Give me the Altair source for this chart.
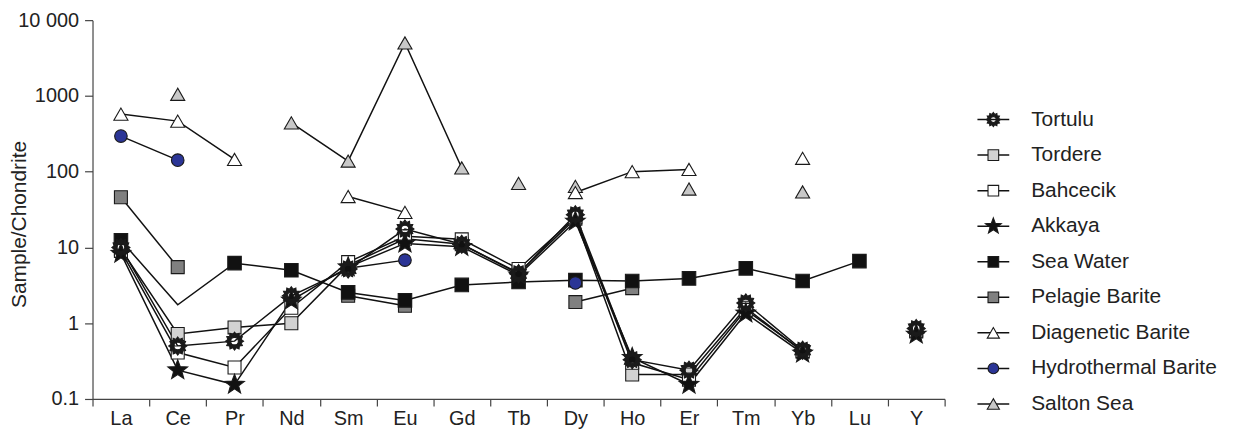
import math
import altair as alt
import pandas as pd

# ---------------- data ----------------
elements = ["La", "Ce", "Pr", "Nd", "Sm", "Eu", "Gd", "Tb", "Dy", "Ho", "Er", "Tm", "Yb", "Lu", "Y"]

names = ["Tortulu", "Tordere", "Bahcecik", "Akkaya", "Sea Water", "Pelagie Barite",
         "Diagenetic Barite", "Hydrothermal Barite", "Salton Sea"]

tortulu = [10.0, 0.50, 0.58, 2.3, 5.2, 17.5, 11.0, 4.5, 27.0, 0.33, 0.24, 1.85, 0.44, None, 0.85]
tordere = [9.5, 0.72, 0.88, 1.0, 5.8, 13.0, 11.0, 4.6, 24.0, 0.21, 0.21, 1.60, 0.42, None, 0.78]
bahcecik = [9.0, 0.41, 0.26, 1.6, 6.4, 14.0, 12.8, 5.2, 25.0, 0.30, 0.18, 1.50, 0.43, None, 0.80]
akkaya = [8.3, 0.24, 0.155, 2.0, 5.5, 11.3, 10.2, 4.3, 22.0, 0.35, 0.155, 1.35, 0.40, None, 0.71]
sea_water = [12.4, 1.75, 6.2, 5.0, 2.55, 2.0, 3.2, 3.5, 3.7, 3.6, 3.9, 5.3, 3.6, 6.6, None]
pelagie = [46.0, 5.5, None, None, 2.3, 1.7, None, None, 1.9, 2.9, None, None, None, None, None]
diagenetic = [575, 465, 145, None, 47, 29, None, None, 53, 100, 107, None, 150, None, None]
hydrothermal = [295, 142, None, None, 5.3, 6.8, None, None, 3.4, None, None, None, None, None, None]
salton = [None, 1050, None, 440, 138, 5000, 112, 70, 64, None, 59, None, 54, None, None]

series = {
    "Tortulu": tortulu, "Tordere": tordere, "Bahcecik": bahcecik, "Akkaya": akkaya,
    "Sea Water": sea_water, "Pelagie Barite": pelagie, "Diagenetic Barite": diagenetic,
    "Hydrothermal Barite": hydrothermal, "Salton Sea": salton,
}

# points that are not joined to the previous point of their series
break_before = {("Salton Sea", "Tb"), ("Salton Sea", "Dy")}
# vertices drawn without a marker
hidden_marker = {("Sea Water", "Ce"), ("Hydrothermal Barite", "Sm")}

y_ticks = [0.1, 1, 10, 100, 1000, 10000]
y_tick_labels = ["0.1", "1", "10", "100", "1000", "10 000"]

# ---------------- styles ----------------
def star_path(n, r_out, r_in):
    pts = []
    for i in range(2 * n):
        r = r_out if i % 2 == 0 else r_in
        a = -math.pi / 2 + i * math.pi / n
        pts.append(f"{r * math.cos(a):.3f},{r * math.sin(a):.3f}")
    return "M" + "L".join(pts) + "Z"

# black toothed ring with a white hole in the middle (opposite winding)
sun = star_path(12, 1.0, 0.76) + " M0.42,0 A0.42,0.42 0 1,0 -0.42,0 A0.42,0.42 0 1,0 0.42,0Z"
star5 = star_path(5, 1.0, 0.42)

shape_of = {"Tortulu": sun, "Tordere": "square", "Bahcecik": "square", "Akkaya": star5,
            "Sea Water": "square", "Pelagie Barite": "square", "Diagenetic Barite": "triangle-up",
            "Hydrothermal Barite": "circle", "Salton Sea": "triangle-up"}
fill_of = {"Tortulu": "#1a1a1a", "Tordere": "#d2d2d2", "Bahcecik": "#ffffff", "Akkaya": "#111111",
           "Sea Water": "#111111", "Pelagie Barite": "#808080", "Diagenetic Barite": "#ffffff",
           "Hydrothermal Barite": "#2b3596", "Salton Sea": "#c8c8c8"}
size_of = {"Tortulu": 330, "Tordere": 170, "Bahcecik": 170, "Akkaya": 430, "Sea Water": 185,
           "Pelagie Barite": 170, "Diagenetic Barite": 200, "Hydrothermal Barite": 160, "Salton Sea": 200}
legend_size_of = {"Tortulu": 200, "Tordere": 115, "Bahcecik": 115, "Akkaya": 280, "Sea Water": 115,
                  "Pelagie Barite": 115, "Diagenetic Barite": 150, "Hydrothermal Barite": 115, "Salton Sea": 150}

draw_order = ["Salton Sea", "Diagenetic Barite", "Pelagie Barite", "Sea Water", "Hydrothermal Barite",
              "Tordere", "Bahcecik", "Akkaya", "Tortulu"]

line_rows, pt_rows = [], []
for name in draw_order:
    vals = series[name]
    seg = 0
    for el, v in zip(elements, vals):
        if v is None:
            seg += 1
            continue
        if (name, el) in break_before:
            seg += 1
        line_rows.append({"series": name, "el": el, "v": v, "seg": f"{name}-{seg}"})
        if (name, el) not in hidden_marker:
            pt_rows.append({"series": name, "el": el, "v": v, "sz": size_of[name]})

lines_df = pd.DataFrame(line_rows)
pts_df = pd.DataFrame(pt_rows)
legend_df = pd.DataFrame({"series": names, "sz": [legend_size_of[n] for n in names]})

FONT = "Liberation Sans"

x_enc = alt.X("el:N", scale=alt.Scale(type="band", domain=elements, paddingInner=0, paddingOuter=0),
              axis=alt.Axis(title=None, tickBand="extent", labelAngle=0, grid=False))
label_expr = " : ".join(f"datum.value == {v} ? '{l}'" for v, l in zip(y_ticks, y_tick_labels)) + " : ''"
y_enc = alt.Y("v:Q", scale=alt.Scale(type="log", domain=[0.1, 10000]),
              axis=alt.Axis(values=y_ticks, labelExpr=label_expr, title="Sample/Chondrite", grid=False,
                            tickSize=8, labelPadding=6, titleX=-63, titleY=205, titleFontSize=21,
                            titleFontWeight="normal", titleFont=FONT, titleColor="#222222"))

shape_scale = alt.Scale(domain=names, range=[shape_of[n] for n in names])
fill_scale = alt.Scale(domain=names, range=[fill_of[n] for n in names])

lines = alt.Chart(lines_df).mark_line(color="#111111", strokeWidth=1.5).encode(
    x=x_enc, y=y_enc, detail="seg:N")

points = alt.Chart(pts_df).mark_point(filled=False, stroke="#1a1a1a", strokeWidth=1.1, opacity=1).encode(
    x=x_enc, y=y_enc,
    shape=alt.Shape("series:N", scale=shape_scale, legend=None),
    fill=alt.Fill("series:N", scale=fill_scale, legend=None),
    size=alt.Size("sz:Q", scale=None),
    order=alt.value(0))

leg_y = alt.Y("series:N", sort=names,
              scale=alt.Scale(type="point", domain=names, range=[100, 386], padding=0), axis=None)

leg_rule = alt.Chart(legend_df).mark_rule(color="#111111", strokeWidth=1.5).encode(
    x=alt.value(890), x2=alt.value(922), y=leg_y)
leg_pt = alt.Chart(legend_df).mark_point(filled=False, stroke="#1a1a1a", strokeWidth=1.1, opacity=1).encode(
    x=alt.value(906), y=leg_y,
    shape=alt.Shape("series:N", scale=shape_scale, legend=None),
    fill=alt.Fill("series:N", scale=fill_scale, legend=None),
    size=alt.Size("sz:Q", scale=None))
leg_txt = alt.Chart(legend_df).mark_text(align="left", baseline="middle", font=FONT, fontSize=21,
                                         color="#222222").encode(
    x=alt.value(944), y=leg_y, text="series:N")

main = alt.layer(lines, points)
legend = alt.layer(leg_rule, leg_pt, leg_txt)

chart = alt.layer(main, legend).resolve_scale(y="independent").properties(
    width=857, height=381,
    autosize=alt.AutoSizeParams(type="none"),
    padding={"left": 85, "top": 11, "right": 285, "bottom": 30},
).configure_view(strokeWidth=0).configure_axis(
    domainColor="#444444", tickColor="#444444", labelColor="#222222", labelFont=FONT,
    labelFontSize=20, tickSize=7, labelPadding=3, domainWidth=1.2, tickWidth=1.2,
)

chart.save("out.html", embed_options={"renderer": "svg", "actions": False})
